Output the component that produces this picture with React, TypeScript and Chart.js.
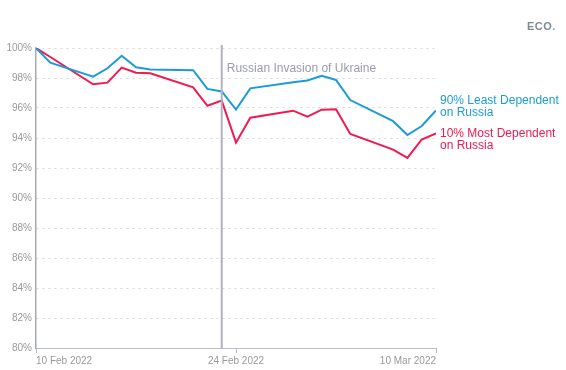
import React, { useEffect, useRef } from "react";
import { Chart, registerables } from "chart.js";

Chart.register(...registerables);

// days since 10 Feb 2022 (trading days)
const days = [0, 1, 4, 5, 6, 7, 8, 11, 12, 13, 14, 15, 18, 19, 20, 21, 22, 25, 26, 27, 28];
const leastDependent = [100, 99.02, 98.09, 98.65, 99.48, 98.71, 98.57, 98.52, 97.27, 97.1, 95.89, 97.31, 97.72, 97.83, 98.15, 97.87, 96.53, 95.12, 94.2, 94.8, 95.83];
const mostDependent = [100, 99.4, 97.58, 97.69, 98.69, 98.35, 98.31, 97.38, 96.15, 96.49, 93.69, 95.35, 95.82, 95.42, 95.89, 95.91, 94.27, 93.23, 92.67, 93.9, 94.31];
const tickDays = [0, 14, 28];
const tickLabels = ["10 Feb 2022", "24 Feb 2022", "10 Mar 2022"];
const invasionDay = 13;
const invasionLabel = "Russian Invasion of Ukraine";
const seriesNames = [["90% Least Dependent", "on Russia"], ["10% Most Dependent", "on Russia"]];

const BLUE = "#1c9bd8";
const RED = "#ee1a50";
const FONT = "'Liberation Sans', Arial, sans-serif";

const overlay = {
  id: "overlay",
  afterDatasetsDraw(chart: any) {
    const { ctx, chartArea, scales } = chart;
    const x = scales.x.getPixelForValue(invasionDay);
    ctx.save();
    ctx.strokeStyle = "#b0b0c0";
    ctx.lineWidth = 2;
    ctx.beginPath();
    ctx.moveTo(x, chartArea.top - 3);
    ctx.lineTo(x, chartArea.bottom);
    ctx.stroke();
    ctx.font = `12px ${FONT}`;
    ctx.fillStyle = "#9a9cae";
    ctx.textBaseline = "middle";
    ctx.textAlign = "left";
    ctx.fillText(invasionLabel, x + 5, chartArea.top + 21);

    const lx = chartArea.right + 4;
    const yb = scales.y.getPixelForValue(leastDependent[leastDependent.length - 1]) - 10;
    const yr = scales.y.getPixelForValue(mostDependent[mostDependent.length - 1]);
    ctx.font = `12px ${FONT}`;
    ctx.fillStyle = BLUE;
    ctx.fillText(seriesNames[0][0], lx, yb);
    ctx.fillText(seriesNames[0][1], lx, yb + 12);
    ctx.fillStyle = RED;
    ctx.fillText(seriesNames[1][0], lx, yr);
    ctx.fillText(seriesNames[1][1], lx, yr + 12);
    ctx.restore();
  },
};

export default function App() {
  const ref = useRef<HTMLCanvasElement>(null);
  useEffect(() => {
    if (!ref.current) return;
    const chart = new Chart(ref.current, {
      type: "line",
      data: {
        datasets: [
          {
            label: seriesNames[0].join(" "),
            data: days.map((d, i) => ({ x: d, y: leastDependent[i] })),
            borderColor: BLUE,
            borderWidth: 2,
            pointRadius: 0,
            tension: 0,
          },
          {
            label: seriesNames[1].join(" "),
            data: days.map((d, i) => ({ x: d, y: mostDependent[i] })),
            borderColor: RED,
            borderWidth: 2,
            pointRadius: 0,
            tension: 0,
          },
        ],
      },
      options: {
        animation: false,
        responsive: false,
        layout: { padding: { left: 0, top: 48, right: 130, bottom: 0 } },
        plugins: { legend: { display: false }, tooltip: { enabled: false } },
        scales: {
          x: {
            type: "linear",
            min: 0,
            max: 28,
            afterBuildTicks: (s: any) => {
              s.ticks = tickDays.map((v) => ({ value: v }));
            },
            afterFit: (s: any) => {
              s.height = 22;
            },
            ticks: {
              align: "inner",
              color: "#999",
              font: { family: FONT, size: 10 },
              padding: 2,
              maxRotation: 0,
              autoSkip: false,
              callback: (v: any) => tickLabels[tickDays.indexOf(Number(v))] ?? "",
            },
            grid: { drawOnChartArea: false, drawTicks: true, tickLength: 5, color: "#b8bcd8" },
            border: { display: true, color: "#b8bcd8", width: 1 },
          },
          y: {
            min: 80,
            max: 100,
            afterFit: (s: any) => {
              s.width = 36;
            },
            ticks: {
              stepSize: 2,
              color: "#999",
              font: { family: FONT, size: 10 },
              padding: 4,
              callback: (v: any) => `${v}%`,
            },
            grid: { color: "#d6d6d6", drawTicks: false },
            border: { display: true, color: "#a8a8bc", width: 1.5, dash: [2, 4] as any },
          },
        },
      },
      plugins: [overlay],
    });
    return () => chart.destroy();
  }, []);
  return (
    <div style={{ position: "fixed", left: 0, top: 0, width: 566, height: 370, background: "#fff" }}>
      <canvas ref={ref} width={566} height={370} />
      <div
        style={{
          position: "absolute",
          left: 527,
          top: 20,
          font: `bold 11px ${FONT}`,
          color: "#7e8a92",
          letterSpacing: 0.5,
        }}
      >
        ECO<span style={{ color: "#5ab4e6" }}>.</span>
      </div>
    </div>
  );
}
